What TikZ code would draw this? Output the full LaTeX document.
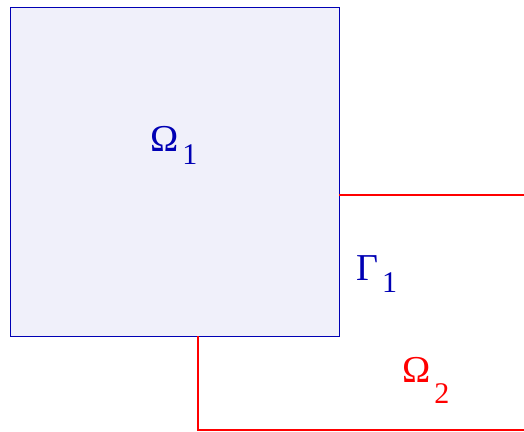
\documentclass[tikz,border=0pt]{standalone}
\usepackage{fontspec}
\setmainfont{Liberation Serif}
\usepackage{xcolor}
\definecolor{cDom}{HTML}{0000B4}
\definecolor{cFill}{HTML}{F0F0FA}
\definecolor{cOut}{HTML}{FF0000}
\usetikzlibrary{positioning}
\tikzset{
  dom-box/.style={draw=cDom,line width=1.2pt,fill=cFill,inner sep=0pt,
    minimum width=329pt,minimum height=329pt,anchor=north west},
  dom-edge/.style={draw=cOut,line width=1.1pt},
  dom-label/.style={anchor=base west,inner sep=0pt,font=\fontsize{38}{38}\selectfont},
}
% symbol with a lowered index, set apart as in the figure
\newcommand{\symidx}[3][13pt]{#2\hspace{4pt}\raisebox{-#1}{\fontsize{30}{30}\selectfont #3}}

\begin{document}
\begin{tikzpicture}[x=1pt,y=-1pt]
  \useasboundingbox (0,0) rectangle (524,431);
  \node[dom-box] (sq) at (10,7) {};
  \node[dom-label,text=cDom] (om1) at (150,151) {\symidx{Ω}{1}};
  \node[dom-label,text=cDom] (ga1) at (356,280) {\symidx[12pt]{Γ}{1}};
  \node[dom-label,text=cOut] (om2) at (402,382) {\symidx[21pt]{Ω}{2}};
  \coordinate (ea) at (339,195);
  \coordinate (eb) at (524,195);
  \coordinate (sa) at (198,336);
  \coordinate (sb) at (198,430);
  \coordinate (sc) at (524,430);
  \draw[dom-edge] (ea) -- (eb);
  \draw[dom-edge] (sa) -- (sb) -- (sc);
\end{tikzpicture}
\end{document}
